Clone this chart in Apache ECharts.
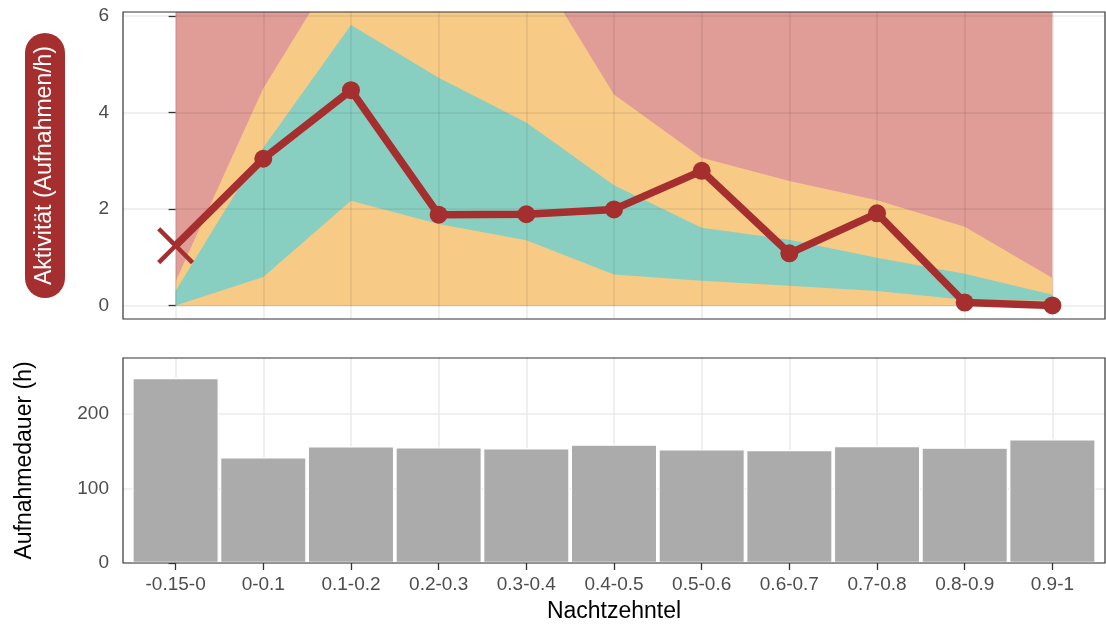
<!DOCTYPE html>
<html>
<head>
<meta charset="utf-8">
<script src="https://cdn.jsdelivr.net/npm/echarts@6/dist/echarts.min.js"></script>
<style>
html,body{margin:0;padding:0;background:#fff;}
#chart{width:1106px;height:634px;}
</style>
</head>
<body>
<div id="chart"></div>
<script>
// ---- data ----
const categories = ['-0.15-0','0-0.1','0.1-0.2','0.2-0.3','0.3-0.4','0.4-0.5','0.5-0.6','0.6-0.7','0.7-0.8','0.8-0.9','0.9-1'];
const activity   = [1.24, 3.04, 4.46, 1.88, 1.89, 1.99, 2.79, 1.08, 1.91, 0.06, 0.00];
const tealLower  = [0.00, 0.59, 2.17, 1.69, 1.35, 0.64, 0.51, 0.41, 0.30, 0.12, 0.10];
const tealUpper  = [0.30, 3.27, 5.81, 4.72, 3.79, 2.49, 1.61, 1.36, 0.99, 0.66, 0.22];
const orangeUpper= [0.50, 4.50, 7.45, 7.60, 7.33, 4.37, 3.06, 2.58, 2.18, 1.63, 0.57];
const redUpper   = [10, 10, 10, 10, 10, 10, 10, 10, 10, 10, 10];
const duration   = [247.7, 141.5, 156.2, 154.9, 153.5, 158.5, 152.2, 151.3, 156.6, 154.5, 165.6];
const activityTicks = [0, 2, 4, 6];
const durationTicks = [0, 100, 200];
const catTicks = categories.map((c, i) => i);

// ---- styles ----
const FONT = "'Liberation Sans', Arial, Helvetica, sans-serif";
const RED = '#A52F2F';
const RED_FILL = '#E09D97';
const ORANGE = '#F7CA86';
const TEAL = '#89CFC1';
const pairs = arr => arr.map((v, i) => [i, v]);

const chart = echarts.init(document.getElementById('chart'), null, {renderer: 'canvas'});

const gridCommon = {
  show: true, borderColor: '#333333', borderWidth: 1.2,
  backgroundColor: 'transparent', z: 8, containLabel: false
};

function areaSeries(values, color) {
  return {
    type: 'line', xAxisIndex: 0, yAxisIndex: 0, z: 1,
    data: pairs(values), symbol: 'none', lineStyle: {width: 0},
    areaStyle: {color: color, opacity: 1, origin: 0}
  };
}

const option = {
  animation: false,
  textStyle: {fontFamily: FONT},
  grid: [
    Object.assign({left: 123, top: 12, width: 982, height: 307}, gridCommon),
    Object.assign({left: 123, top: 358, width: 982, height: 205}, gridCommon)
  ],
  xAxis: [
    {
      type: 'value', gridIndex: 0, min: -0.6, max: 10.6, z: 3,
      axisLine: {show: false},
      axisTick: {show: false, customValues: catTicks},
      axisLabel: {show: false, customValues: catTicks},
      splitLine: {show: true, lineStyle: {color: 'rgba(0,0,0,0.078)', width: 1.6}}
    },
    {
      type: 'value', gridIndex: 1, min: -0.6, max: 10.6,
      name: 'Nachtzehntel', nameLocation: 'middle', nameGap: 37,
      nameTextStyle: {color: '#000', fontSize: 23, fontFamily: FONT},
      axisLine: {show: false},
      axisTick: {show: true, length: 7, customValues: catTicks, lineStyle: {color: '#333', width: 1.3}},
      axisLabel: {show: true, margin: 12, customValues: catTicks, color: '#4D4D4D', fontSize: 19, fontFamily: FONT,
        formatter: v => categories[Math.round(v)] || ''},
      splitLine: {show: true, lineStyle: {color: '#EBEBEB', width: 1.6}}
    }
  ],
  yAxis: [
    {
      type: 'value', gridIndex: 0, min: -0.28, max: 6.08, z: 3,
      name: 'Aktivität (Aufnahmen/h)', nameLocation: 'middle', nameRotate: 90, nameGap: 58,
      nameTextStyle: {color: '#fff', fontSize: 23, fontFamily: FONT, backgroundColor: RED,
        borderRadius: 20, padding: [8, 13, 9, 13]},
      axisLine: {show: false},
      axisTick: {show: true, length: 7, customValues: activityTicks, lineStyle: {color: '#333', width: 1.3}},
      axisLabel: {show: true, margin: 14, customValues: activityTicks, color: '#4D4D4D', fontSize: 19, fontFamily: FONT},
      splitLine: {show: true, lineStyle: {color: 'rgba(0,0,0,0.078)', width: 1.6}}
    },
    {
      type: 'value', gridIndex: 1, min: 0, max: 274.4,
      name: 'Aufnahmedauer (h)', nameLocation: 'middle', nameRotate: 90, nameGap: 87,
      nameTextStyle: {color: '#000', fontSize: 23, fontFamily: FONT},
      axisLine: {show: false},
      axisTick: {show: true, length: 7, customValues: durationTicks, lineStyle: {color: '#333', width: 1.3}},
      axisLabel: {show: true, margin: 14, customValues: durationTicks, color: '#4D4D4D', fontSize: 19, fontFamily: FONT},
      splitLine: {show: true, lineStyle: {color: '#EBEBEB', width: 1.6}}
    }
  ],
  series: [
    // red background ribbon up to the top of the panel
    areaSeries(redUpper, RED_FILL),
    // wide interval (orange), lower bound 0
    areaSeries(orangeUpper, ORANGE),
    // narrow interval (teal): filled up to its upper bound, orange restored below its lower bound
    areaSeries(tealUpper, TEAL),
    areaSeries(tealLower, ORANGE),
    {
      type: 'line', xAxisIndex: 0, yAxisIndex: 0, z: 5,
      data: activity.map((v, i) => i === 0 ? {
        value: [i, v],
        symbol: 'path://M0,8.5 L8.5,0 L50,41.5 L91.5,0 L100,8.5 L58.5,50 L100,91.5 L91.5,100 L50,58.5 L8.5,100 L0,91.5 L41.5,50 Z',
        symbolSize: 37
      } : [i, v]),
      symbol: 'circle', symbolSize: 18,
      lineStyle: {color: RED, width: 7.5},
      itemStyle: {color: RED}
    },
    {
      type: 'bar', xAxisIndex: 1, yAxisIndex: 1, z: 2,
      data: pairs(duration), barWidth: '98.5%',
      itemStyle: {color: '#ABABAB', borderColor: '#FFFFFF', borderWidth: 1.2}
    }
  ]
};
chart.setOption(option);
</script>
</body>
</html>
